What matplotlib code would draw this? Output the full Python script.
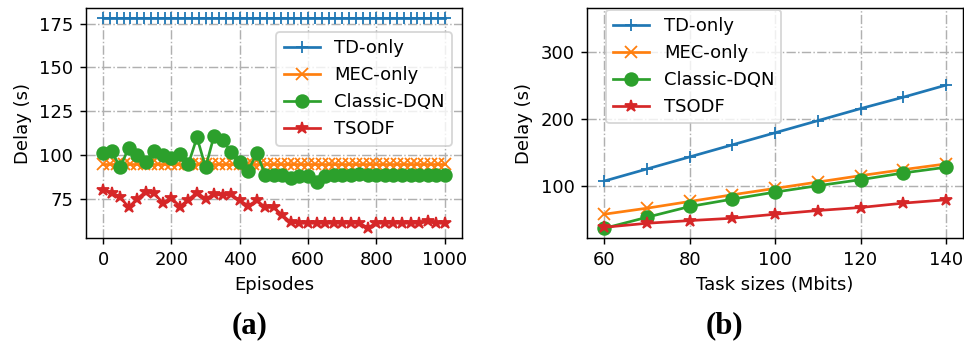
# delay comparison: (a) vs episodes, (b) vs task size
import numpy as np
import matplotlib
matplotlib.use('Agg')
import matplotlib.pyplot as plt

# ---- data (a) ----
episodes_dense = list(range(0, 1001, 20))
episodes = list(range(0, 1001, 25))
td_only_a = [178] * len(episodes_dense)
mec_only_a = [94.6] * len(episodes_dense)
dqn_a = [101, 102, 93, 104, 100, 96, 102.5, 100, 98.5, 100.5,
         95, 110, 93, 111, 108.5, 101.5, 96, 91, 101, 88.5,
         88.5, 88.5, 87, 88, 88, 84.5, 88, 88.5, 88.5, 88.5,
         89, 88.5, 88.5, 88.5, 88.5, 88.5, 88.5, 88.5, 88.5, 88.5, 88.5]
tsodf_a = [80, 78.5, 76, 70, 75, 79, 78, 72.5, 75.5, 70.5,
           74.5, 78.5, 75, 77.5, 77, 77.5, 74, 71, 74, 70,
           70, 65.5, 61.5, 61, 61, 61, 61, 61, 61, 61,
           61, 58.5, 61, 61, 61, 61, 61, 61, 62, 61, 61]

# ---- data (b) ----
task_sizes = [60, 70, 80, 90, 100, 110, 120, 130, 140]
td_only_b = [107, 125, 143, 161, 179, 197, 215, 232, 250]
mec_only_b = [57.5, 66.5, 76.5, 86.5, 96, 105.5, 115, 124, 132.5]
dqn_b = [36.5, 53, 69, 80, 90.5, 100, 109, 119, 127.5]
tsodf_b = [38, 44, 48, 51.5, 57.5, 63, 67.5, 74, 79]

fig = plt.figure(figsize=(964/130, 344/130), dpi=130)
ax1 = fig.add_axes([0.0892, 0.3081, 0.3898, 0.6686])
ax2 = fig.add_axes([0.6092, 0.3081, 0.3898, 0.6686])

ms = 7
ax1.plot(episodes_dense, td_only_a, marker='+', ms=ms, label='TD-only')
ax1.plot(episodes_dense, mec_only_a, marker='x', ms=ms, label='MEC-only')
ax1.plot(episodes, dqn_a, marker='o', ms=ms, label='Classic-DQN')
ax1.plot(episodes, tsodf_a, marker='*', ms=ms, label='TSODF')
ax1.set_xlabel('Episodes')
ax1.set_ylabel('Delay (s)')
ax1.set_yticks([75, 100, 125, 150, 175])
ax1.grid(linestyle='-.')
ax1.legend(loc='upper right', bbox_to_anchor=(0.998, 0.935))

ax2.plot(task_sizes, td_only_b, marker='+', ms=ms, label='TD-only')
ax2.plot(task_sizes, mec_only_b, marker='x', ms=ms, label='MEC-only')
ax2.plot(task_sizes, dqn_b, marker='o', ms=ms, label='Classic-DQN')
ax2.plot(task_sizes, tsodf_b, marker='*', ms=ms, label='TSODF')
ax2.set_xlabel('Task sizes (Mbits)')
ax2.set_ylabel('Delay (s)')
ax2.set_ylim(22, 365)
ax2.set_xticks([60, 80, 100, 120, 140])
ax2.set_yticks([100, 200, 300])
ax2.grid(linestyle='-.')
ax2.legend(loc='upper left', bbox_to_anchor=(0.045, 1.0), borderaxespad=0.1)

fig.text(0.259, 0.052, '(a)', ha='center', va='center',
         family='Liberation Serif', fontweight='bold', fontsize=17)
fig.text(0.752, 0.052, '(b)', ha='center', va='center',
         family='Liberation Serif', fontweight='bold', fontsize=17)

fig.savefig('out.png', dpi=130)
